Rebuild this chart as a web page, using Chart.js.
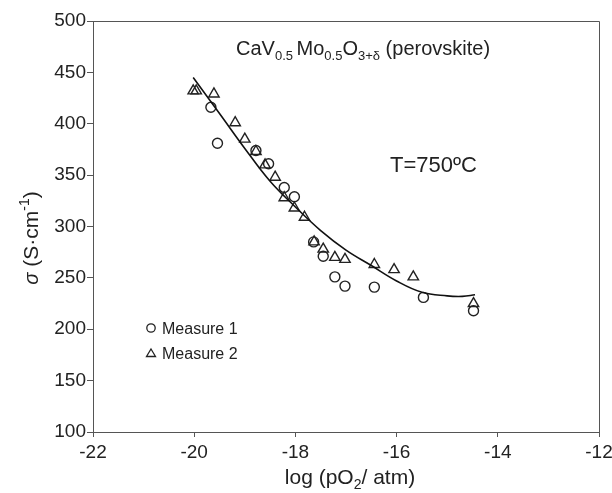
<!DOCTYPE html>
<html>
<head>
<meta charset="utf-8">
<script src="https://cdn.jsdelivr.net/npm/chart.js@4.4.0/dist/chart.umd.min.js"></script>
<style>
  html, body { margin: 0; padding: 0; background: #fff; }
  #wrap { width: 612px; height: 493px; }
</style>
</head>
<body>
<div id="wrap"><canvas id="chart"></canvas></div>
<script>
// Measure 1 (circles)
const measure1X = [-19.67, -19.54, -18.78, -18.53, -18.22, -18.02, -17.64, -17.45, -17.22, -17.02, -16.44, -15.47, -14.48];
const measure1Y = [416, 381, 374, 361, 338, 329, 285, 271, 251, 242, 241, 231, 218];
// Measure 2 (triangles)
const measure2X = [-20.02, -19.96, -19.61, -19.19, -19.0, -18.78, -18.6, -18.4, -18.22, -18.02, -17.82, -17.63, -17.45, -17.22, -17.02, -16.44, -16.05, -15.67, -14.48];
const measure2Y = [432, 432, 429, 401, 385, 373, 360, 348, 328, 318, 309, 285, 278, 270, 268, 263, 258, 251, 225];
// fitted curve
const fitX = [-20.02, -19.5, -19, -18.5, -18, -17.5, -17, -16.5, -16, -15.5, -15, -14.7, -14.45];
const fitY = [445, 410, 376, 344, 319, 296, 277, 262, 247, 236, 232.5, 232, 233.5];

const xTickValues = [-22, -20, -18, -16, -14, -12];
const yTickValues = [100, 150, 200, 250, 300, 350, 400, 450, 500];

const FONT = '"Liberation Sans", Arial, Helvetica, sans-serif';
const INK = '#222';

function toPoints(xs, ys) {
  return xs.map((x, i) => ({ x: x, y: ys[i] }));
}

// draws a run of text pieces, each with its own size / offset
function drawRuns(ctx, runs, x, y, align) {
  let total = 0;
  runs.forEach(r => {
    ctx.font = (r.italic ? 'italic ' : '') + r.size + 'px ' + FONT;
    r.w = ctx.measureText(r.text).width;
    total += r.w;
  });
  let cx = align === 'center' ? x - total / 2 : x;
  runs.forEach(r => {
    ctx.font = (r.italic ? 'italic ' : '') + r.size + 'px ' + FONT;
    ctx.fillText(r.text, cx, y + (r.dy || 0));
    cx += r.w;
  });
}

const decorations = {
  id: 'decorations',
  afterDraw(chart) {
    const ctx = chart.ctx;
    const a = chart.chartArea;
    ctx.save();

    // top and right frame
    ctx.strokeStyle = '#555';
    ctx.lineWidth = 1;
    ctx.beginPath();
    ctx.moveTo(a.left, a.top + 0.5);
    ctx.lineTo(a.right + 0.5, a.top + 0.5);
    ctx.lineTo(a.right + 0.5, a.bottom);
    ctx.stroke();

    ctx.fillStyle = INK;
    ctx.textBaseline = 'alphabetic';
    ctx.textAlign = 'left';

    // x axis title
    drawRuns(ctx, [
      { text: 'log (pO', size: 21 },
      { text: '2', size: 14, dy: 5 },
      { text: '/ atm)', size: 21 }
    ], 350, 484, 'center');

    // y axis title
    ctx.save();
    ctx.translate(38, 238);
    ctx.rotate(-Math.PI / 2);
    drawRuns(ctx, [
      { text: '\u03c3', size: 20, italic: true },
      { text: ' (S\u00b7cm', size: 21 },
      { text: '-1', size: 14, dy: -9 },
      { text: ')', size: 21 }
    ], 0, 0, 'center');
    ctx.restore();

    // compound label
    drawRuns(ctx, [
      { text: 'CaV', size: 20 },
      { text: '0.5 ', size: 13, dy: 5 },
      { text: 'Mo', size: 20 },
      { text: '0.5', size: 13, dy: 5 },
      { text: 'O', size: 20 },
      { text: '3+\u03b4', size: 13, dy: 5 },
      { text: ' (perovskite)', size: 20 }
    ], 236, 55, 'left');

    // temperature
    ctx.font = '22px ' + FONT;
    ctx.fillText('T=750\u00baC', 390, 172);

    // legend
    ctx.strokeStyle = INK;
    ctx.lineWidth = 1.3;
    ctx.beginPath();
    ctx.arc(151, 328, 4.2, 0, Math.PI * 2);
    ctx.stroke();
    ctx.beginPath();
    ctx.moveTo(151, 349);
    ctx.lineTo(155.5, 356.5);
    ctx.lineTo(146.5, 356.5);
    ctx.closePath();
    ctx.stroke();
    ctx.font = '16px ' + FONT;
    ctx.fillText('Measure 1', 162, 334);
    ctx.fillText('Measure 2', 162, 359);

    ctx.restore();
  }
};

const ctx = document.getElementById('chart').getContext('2d');
const chart = new Chart(ctx, {
  type: 'scatter',
  data: {
    datasets: [
      {
        label: 'fit',
        data: toPoints(fitX, fitY),
        showLine: true,
        borderColor: '#111',
        borderWidth: 1.6,
        pointRadius: 0,
        tension: 0.4,
        fill: false
      },
      {
        label: 'Measure 1',
        data: toPoints(measure1X, measure1Y),
        pointStyle: 'circle',
        pointRadius: 5,
        pointBorderWidth: 1.4,
        pointBorderColor: INK,
        pointBackgroundColor: 'rgba(255,255,255,0)'
      },
      {
        label: 'Measure 2',
        data: toPoints(measure2X, measure2Y),
        pointStyle: 'triangle',
        pointRadius: 6,
        pointBorderWidth: 1.4,
        pointBorderColor: INK,
        pointBackgroundColor: 'rgba(255,255,255,0)'
      }
    ]
  },
  options: {
    responsive: true,
    maintainAspectRatio: false,
    animation: false,
    layout: { padding: { top: 21, right: 13, left: 0, bottom: 0 } },
    plugins: {
      legend: { display: false },
      tooltip: { enabled: false }
    },
    scales: {
      x: {
        type: 'linear',
        min: -22,
        max: -12,
        afterBuildTicks: scale => { scale.ticks = xTickValues.map(v => ({ value: v })); },
        afterFit: scale => { scale.height = 61; scale.paddingRight = 0; scale.paddingLeft = 0; },
        border: { color: '#555', width: 1 },
        grid: { drawOnChartArea: false, drawTicks: true, tickLength: 5, color: '#555' },
        ticks: { color: INK, font: { family: FONT, size: 19 }, padding: 4, maxRotation: 0 }
      },
      y: {
        type: 'linear',
        min: 100,
        max: 500,
        afterBuildTicks: scale => { scale.ticks = yTickValues.map(v => ({ value: v })); },
        afterFit: scale => { scale.width = 93; scale.paddingTop = 0; scale.paddingBottom = 0; },
        border: { color: '#555', width: 1 },
        grid: { drawOnChartArea: false, drawTicks: true, tickLength: 6, color: '#555' },
        ticks: { color: INK, font: { family: FONT, size: 19 }, padding: 1 }
      }
    }
  },
  plugins: [decorations]
});
</script>
</body>
</html>
